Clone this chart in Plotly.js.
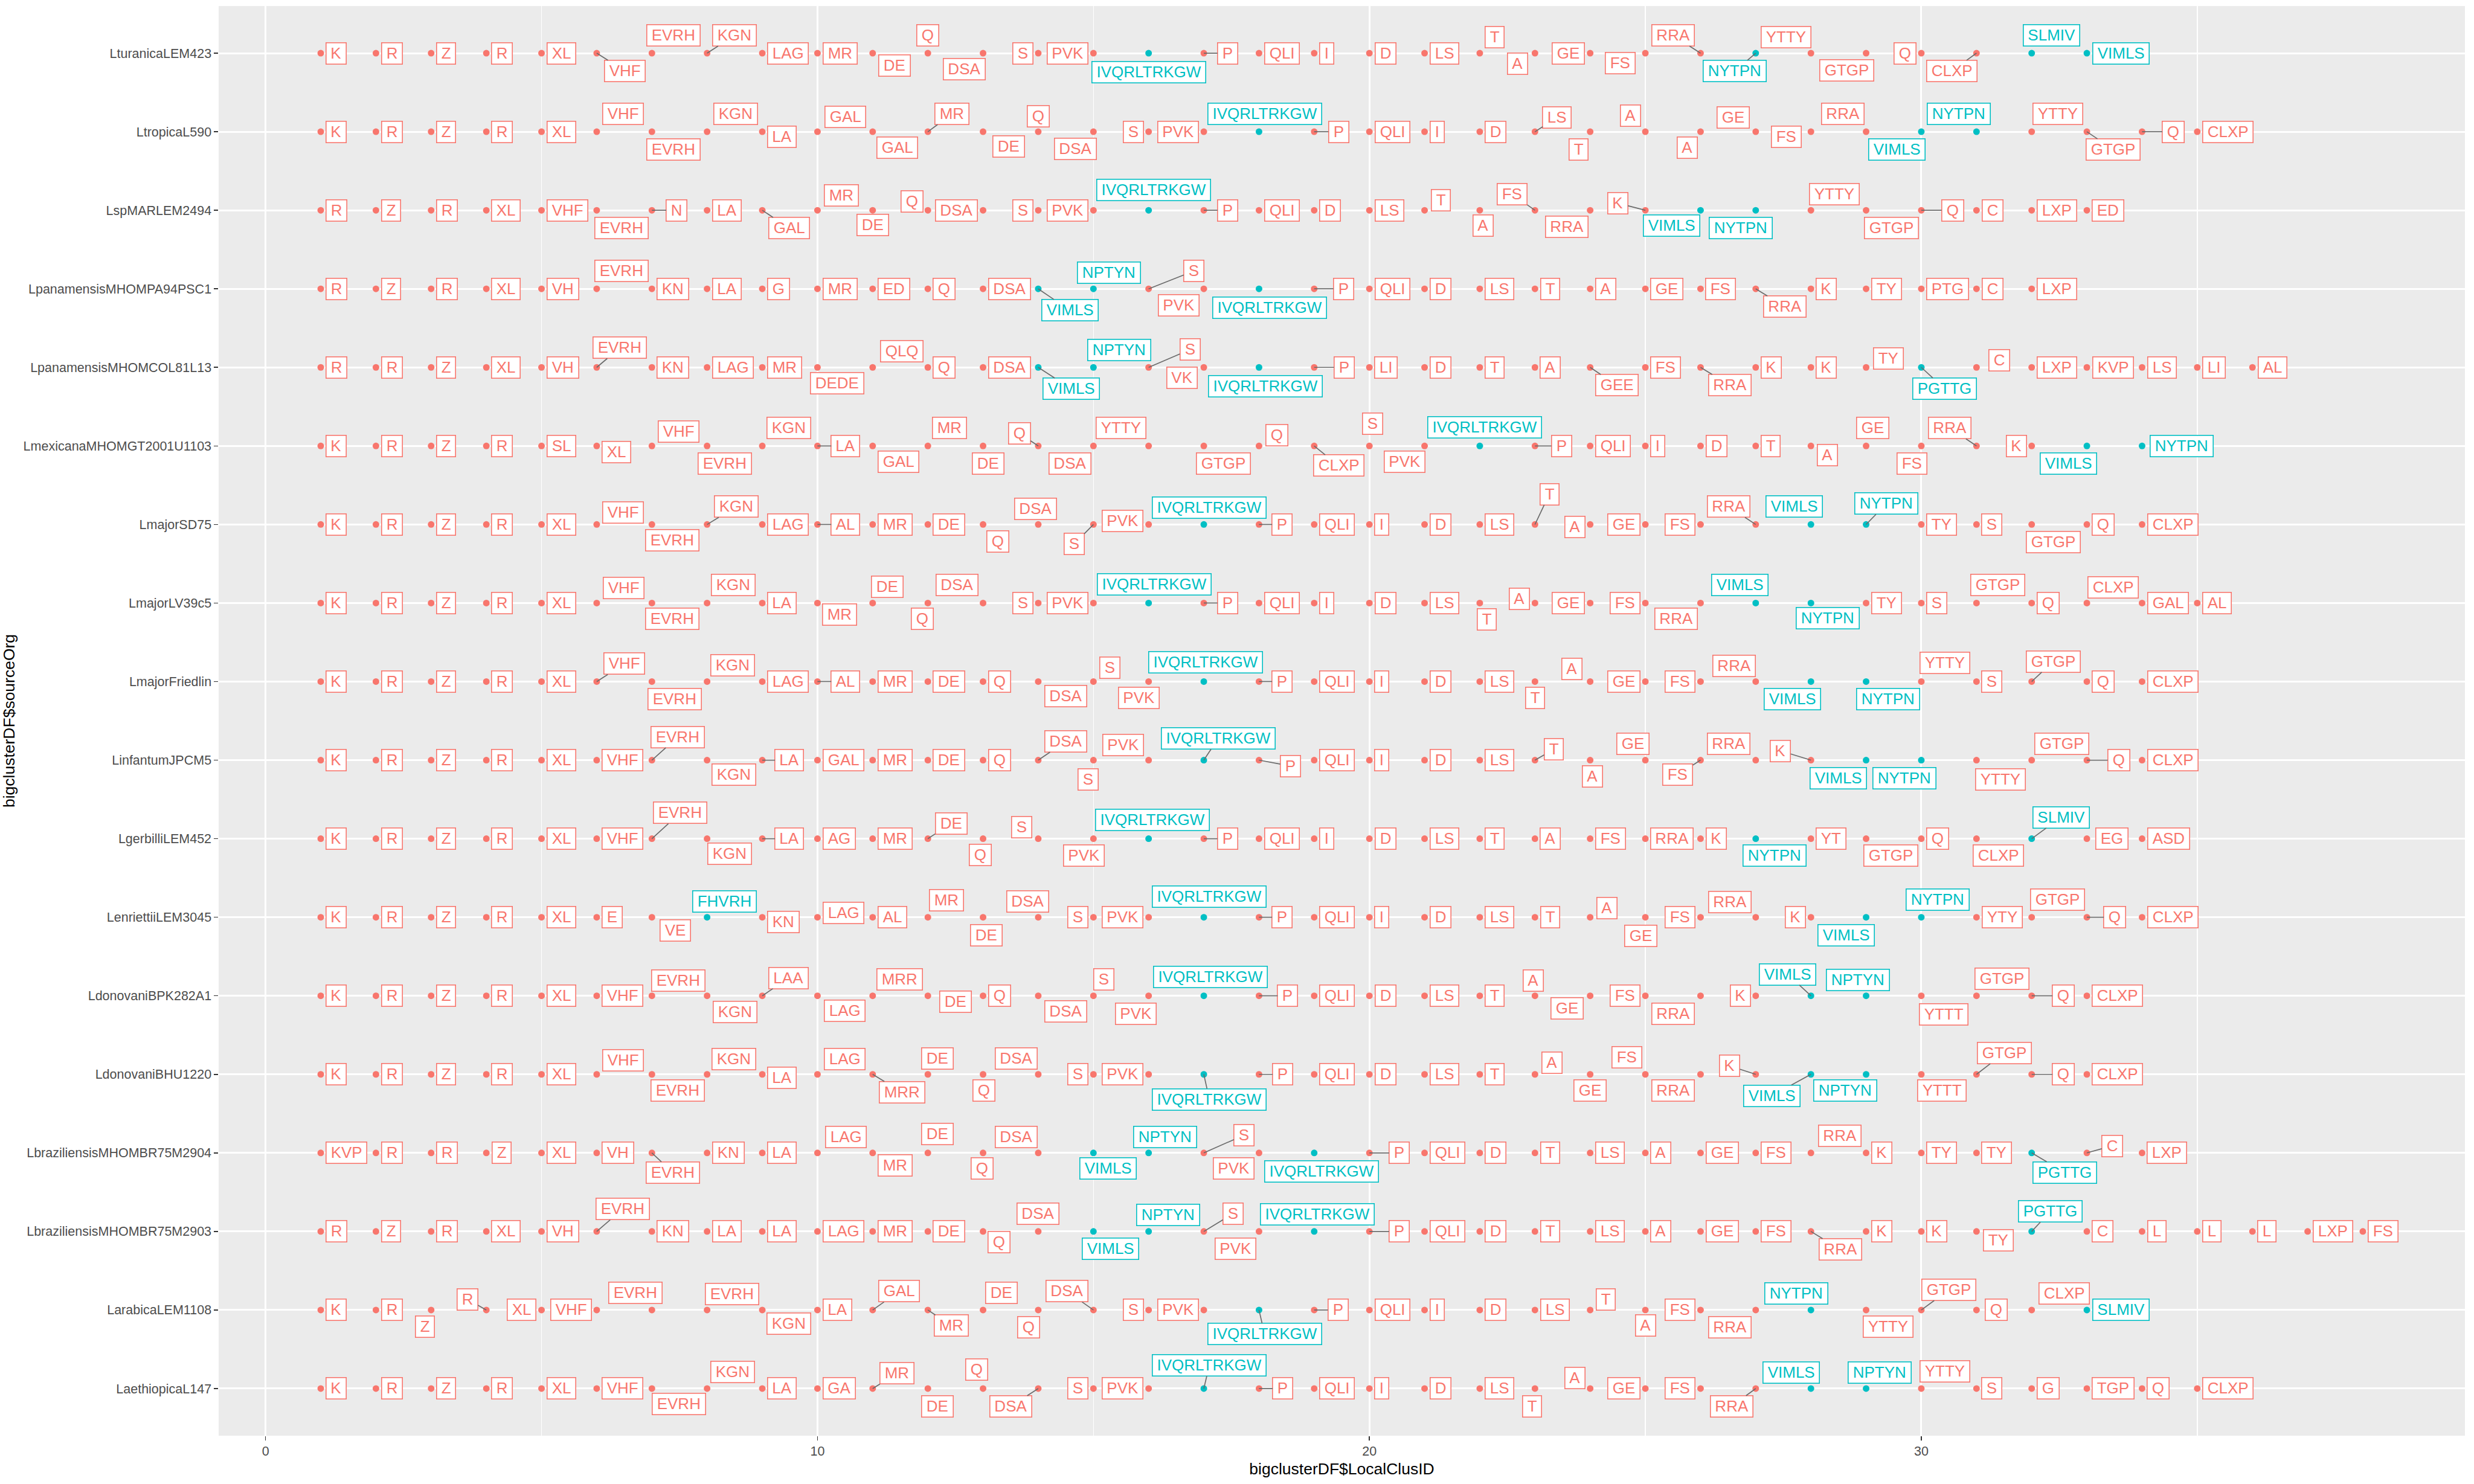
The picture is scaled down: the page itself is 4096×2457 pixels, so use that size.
<!DOCTYPE html>
<html><head><meta charset="utf-8">
<script src="https://cdn.plot.ly/plotly-3.0.1.min.js"></script>
<style>html,body{margin:0;padding:0;background:#fff;}#chart{width:4096px;height:2457px;}</style>
</head><body><div id="chart"></div>
<script>
// ---------- DATA ----------
// organisms, listed from top of the chart to the bottom
const orgs = [
  "LturanicaLEM423","LtropicaL590","LspMARLEM2494","LpanamensisMHOMPA94PSC1",
  "LpanamensisMHOMCOL81L13","LmexicanaMHOMGT2001U1103","LmajorSD75","LmajorLV39c5",
  "LmajorFriedlin","LinfantumJPCM5","LgerbilliLEM452","LenriettiiLEM3045",
  "LdonovaniBPK282A1","LdonovaniBHU1220","LbraziliensisMHOMBR75M2904",
  "LbraziliensisMHOMBR75M2903","LarabicaLEM1108","LaethiopicaL147"
];
// motif label at LocalClusID = 1, 2, 3, ... for each organism (same order as orgs)
const motifs = [
  "K R Z R XL VHF EVRH KGN LAG MR DE Q DSA S PVK IVQRLTRKGW P QLI I D LS T A GE FS RRA NYTPN YTTY GTGP Q CLXP SLMIV VIMLS",
  "K R Z R XL VHF EVRH KGN LA GAL GAL MR DE Q DSA S PVK IVQRLTRKGW P QLI I D LS T A A GE FS RRA VIMLS NYTPN YTTY GTGP Q CLXP",
  "R Z R XL VHF EVRH N LA GAL MR DE Q DSA S PVK IVQRLTRKGW P QLI D LS T A FS RRA K VIMLS NYTPN YTTY GTGP Q C LXP ED",
  "R Z R XL VH EVRH KN LA G MR ED Q DSA VIMLS NPTYN S PVK IVQRLTRKGW P QLI D LS T A GE FS RRA K TY PTG C LXP",
  "R R Z XL VH EVRH KN LAG MR DEDE QLQ Q DSA VIMLS NPTYN S VK IVQRLTRKGW P LI D T A GEE FS RRA K K TY PGTTG C LXP KVP LS LI AL",
  "K R Z R SL XL VHF EVRH KGN LA GAL MR DE Q DSA YTTY GTGP Q CLXP S PVK IVQRLTRKGW P QLI I D T A GE FS RRA K VIMLS NYTPN",
  "K R Z R XL VHF EVRH KGN LAG AL MR DE Q DSA S PVK IVQRLTRKGW P QLI I D LS T A GE FS RRA VIMLS NYTPN TY S GTGP Q CLXP",
  "K R Z R XL VHF EVRH KGN LA MR DE Q DSA S PVK IVQRLTRKGW P QLI I D LS T A GE FS RRA VIMLS NYTPN TY S GTGP Q CLXP GAL AL",
  "K R Z R XL VHF EVRH KGN LAG AL MR DE Q DSA S PVK IVQRLTRKGW P QLI I D LS T A GE FS RRA VIMLS NYTPN YTTY S GTGP Q CLXP",
  "K R Z R XL VHF EVRH KGN LA GAL MR DE Q DSA S PVK IVQRLTRKGW P QLI I D LS T A GE FS RRA K VIMLS NYTPN YTTY GTGP Q CLXP",
  "K R Z R XL VHF EVRH KGN LA AG MR DE Q S PVK IVQRLTRKGW P QLI I D LS T A FS RRA K NYTPN YT GTGP Q CLXP SLMIV EG ASD",
  "K R Z R XL E VE FHVRH KN LAG AL MR DE DSA S PVK IVQRLTRKGW P QLI I D LS T A GE FS RRA K VIMLS NYTPN YTY GTGP Q CLXP",
  "K R Z R XL VHF EVRH KGN LAA LAG MRR DE Q DSA S PVK IVQRLTRKGW P QLI D LS T A GE FS RRA K VIMLS NPTYN YTTT GTGP Q CLXP",
  "K R Z R XL VHF EVRH KGN LA LAG MRR DE Q DSA S PVK IVQRLTRKGW P QLI D LS T A GE FS RRA K VIMLS NPTYN YTTT GTGP Q CLXP",
  "KVP R R Z XL VH EVRH KN LA LAG MR DE Q DSA VIMLS NPTYN S PVK IVQRLTRKGW P QLI D T LS A GE FS RRA K TY TY PGTTG C LXP",
  "R Z R XL VH EVRH KN LA LA LAG MR DE Q DSA VIMLS NPTYN S PVK IVQRLTRKGW P QLI D T LS A GE FS RRA K K TY PGTTG C L L L LXP FS",
  "K R Z R XL VHF EVRH EVRH KGN LA GAL MR DE Q DSA S PVK IVQRLTRKGW P QLI I D LS T A FS RRA NYTPN YTTY GTGP Q CLXP SLMIV",
  "K R Z R XL VHF EVRH KGN LA GA MR DE Q DSA S PVK IVQRLTRKGW P QLI I D LS T A GE FS RRA VIMLS NPTYN YTTY S G TGP Q CLXP"
];
// motifs drawn in the second colour
const tealMotifs = ["IVQRLTRKGW","NYTPN","NPTYN","VIMLS","SLMIV","FHVRH","PGTTG"];

// ---------- LABEL PLACEMENT (repel layout, not data) ----------
// r/l = beside the point (number = gap), u/d = above/below (number = centre shift),
// @ = vertical factor, * = draw connector
const placement = [
  "r r r r r d0.51* u0.39 u0.5* r r d0.4@0.7 u0 d-0.34@0.9 l l d0@1.05 r0.24 r r r r u0.27@0.9 d-0.31@0.6 l d-0.45@0.56 u-0.5* d-0.38* u-0.45@0.9 d-0.35@0.95 l d-0.45* u0.36 r",
  "r r r r r u0.48 d0.39 u0.52 r@0.3 u0.5@0.82 d0.44@0.9 u0.44* d0.46@0.84 u0@0.88 d-0.33@0.95 l l u0.1 r0.25 r r r u0.4@0.8* d-0.21 u-0.27@0.9 d-0.24@0.9 u-0.41@0.8 d-0.45@0.3 u-0.42 d-0.44 u-0.32 u0.47 d0.48* r0.36 r",
  "r r r r r d0.45 r0.25 r d0.49* u0.43@0.82 d0@0.84 u-0.29@0.5 l l l u0.09@1.15 r0.24 r r r u0.29@0.55 d0.06@0.85 u-0.41@0.9* d-0.42@0.92 u-0.5@0.4* d-0.53@0.86 d-0.27 u0.42@0.9 d0.46 r0.36 r r r",
  "r r r r r u0.45 r r r r r r r d0.57@1.2* u0.28@0.9 u0.82* d-0.45@0.92 d0.19@1.05 r0.34 r r r r r r r d0.53* r r r r r",
  "r r r r r u0.42@1.1* r r r d0.36@0.9 u0.53@0.92 r r d0.6@1.2* u0.47@0.96 u0.75* d-0.4@0.6 d0.12@1.05 r0.35 r r r r d0.48* r d0.53* r r u0.4@0.5 d0.42@1.2* u0.41@0.4 r r r r r",
  "r r r r r r@0.35 u0.48@0.82 d0.32 u0.48 r0.24 d0.47@0.9 u0.39 d0.09 u-0.34@0.7* d-0.43 u-0.5 d0.36 u0.32@0.6 d0.44@1.1* u0.06@1.25 d-0.36@0.9 u0.09@1.05 r0.29 r r r r d0.3@0.5 u0.12 d-0.17 u-0.48* l d-0.33 r0.14",
  "r r r r r u0.48@0.67 d0.37@0.9 u0.53* r r0.24 r r d0.27@0.95 u-0.05@0.86 d-0.35@1.1* l@-0.2 u0.1@0.95 r0.23 r r r r u0.26@1.7* l@0.15 l l u-0.49* u-0.3 u0.37@1.18* r r d0.39 r r",
  "r r r r r u0.49@0.84 d0.37@0.9 u0.47 r d0.4@0.65 u0.27@0.9 d-0.1@0.9 u-0.47 l l u0.1@1.05 r0.24 r r r r d0.13@0.92 l@-0.25 l l d-0.44@0.9 u-0.29 d0.3@0.86 r r u0.38 r u0.47@0.87 r r",
  "r r r r r u0.5* d0.41 u0.46@0.9 r r0.24 r r r d0.5@0.8 u0.3@0.78 d-0.18@0.92 u0.03@1.1 r0.23 r r r r d0@0.9 u-0.33@0.7 l l u-0.39@0.87 d-0.34@0.98 d0.4@0.98 u0.43@1.05 r u0.39@1.13* r r",
  "r r r r r r u0.47@1.3* d0.48@0.8 r0.22 r r r r u0.5@1.05* d-0.1@1.1 u-0.46@0.85 u0.26@1.22* r0.38@0.33 r r r r u0.34@0.6* d0.04@0.92 u-0.22@0.9 d-0.41@0.82* u-0.49@0.9 u-0.55@0.52* d-0.5 d-0.31 d0.43@1.08 u0.54@0.9 r0.37 r",
  "r r r r r r u0.51@1.45* d0.41@0.85 r0.22 r r u0.42@0.85* d-0.05@0.9 u-0.3@0.65 d-0.17@0.95 u0.07@1.05 r0.24 r r r r r r r r r d0.34@0.95 r d0.45@0.95 r d0.4@0.95 u0.53@1.2* r0.15 r",
  "r r r r r r d0.42@0.73 u0.31@0.9 r@0.25 r@-0.25 r u0.34@0.95 d0.06 u-0.19@0.87 l l u0.1@1.15 r0.23 r r r r r u0.3@0.5 d-0.08@1.05 l u-0.47@0.85 l d-0.36 u0.3 r u0.47 r0.3 r",
  "r r r r r r u0.48@0.86 d0.51@0.92 u0.48* d0.49@0.85 u0.49@0.92 d0.5@0.33 r d0.5@0.88 u0.19@0.92 d-0.23 u0.12@1.05 r0.33 r r r r u-0.03@0.85 d-0.42@0.7 l d-0.5 l u-0.42@1.2* u-0.15@0.9 d0.4@1.05 u0.46@0.95 r0.37 r",
  "r r r r r u0.48@0.8 d0.47@0.92 u0.48@0.85 r@0.2 u0.49@0.85 d0.53* u0.17@0.88 d0.02@0.92 u-0.4@0.9 l l d0.1@1.4* r0.24 r r r r u0.31@0.64 d0@0.92 u-0.33@0.95 d-0.5@0.92 u-0.47@0.47* d-0.71@1.2* d-0.38@0.92 d0.37@0.92 u0.5@1.2* r0.37 r",
  "r r r r r r d0.38@1.1* r r u0.51@0.9 d0.41@0.7 u0.17@1.05 d-0.02@0.88 u-0.4@0.9 d0.26@0.88 u0.3@0.9 u0.73* d-0.46@0.88 d0.13@1.05 r0.35 r r r r r r r u0.52@0.95 r r r d0.6@1.1* u0.46@0.4* r",
  "r r r r r u0.47@1.25* r r r r r r d0.29@0.6 u0@0.98 d0.31@0.96 u0.35@0.92 u0.53* d-0.43@0.96 u0.06@0.96 r0.35 r r r r r r r d0.53* r r d0.4@0.5 u0.34@1.13* r r r r r r",
  "r r d-0.11@0.94 u-0.34@0.6* l l u-0.3@0.96 u0.45@0.88 d0.48@0.75 r u0.48@1.05* d0.43@0.88* u0.33@0.96 d-0.17@0.98 u-0.48@1.05* l l d0.1@1.35* r0.24 r r r r u0.28@0.6 d0@0.88 l d-0.47@0.96 u-0.27@0.94 d0.4@0.94 u0.5@1.13* r0.15 u0.59@0.92 r",
  "r r r r r r d0.49@0.88 u0.46@0.93 r r u0.44@0.85* d0.17 u-0.12@1.05 d-0.5* l l u0.1@1.3* r0.24 r r r r d-0.05 u-0.28@0.6 l l d-0.44* u-0.36@0.9 u0.24@0.9 u0.43@0.95 r r r r r"
];

// ---------- STYLE / GEOMETRY ----------
const W = 4096, H = 2457;
const M = {l: 362, r: 15, t: 10, b: 80};
const xRange = [-0.85, 39.85], yRange = [-0.6, 17.6];
const pxX = (W - M.l - M.r) / (xRange[1] - xRange[0]);
const LEVEL = 29.5;        // px lift of a label above/below its row
const GAP = 0.09;          // default gap (x units) between point and side label
const FS = 26, PADX = 8.7, BOXH = 36.6, BW = 1.6;
const FAM = '"Liberation Sans", Arial, Helvetica, sans-serif';
const RED = '#F8766D', TEAL = '#00BFC4';

const ctx = document.createElement('canvas').getContext('2d');
ctx.font = FS + 'px "Liberation Sans"';

function parseCode(c) {
  const m = (c || 'r').match(/^([rlud])(-?[\d.]+)?(?:@(-?[\d.]+))?(\*)?$/) || [null, 'r'];
  return {mode: m[1], num: m[2] !== undefined ? parseFloat(m[2]) : null,
          f: m[3] !== undefined ? parseFloat(m[3]) : null, star: !!m[4]};
}

const pts = {red: {x: [], y: []}, teal: {x: [], y: []}};
const annotations = [];
orgs.forEach((org, i) => {
  const yi = orgs.length - 1 - i;
  const labs = motifs[i].split(' ');
  const codes = placement[i].split(' ');
  labs.forEach((lab, j) => {
    const xi = j + 1;
    const teal = tealMotifs.includes(lab);
    const col = teal ? TEAL : RED;
    (teal ? pts.teal : pts.red).x.push(xi);
    (teal ? pts.teal : pts.red).y.push(yi);
    const p = parseCode(codes[j]);
    const ow = ctx.measureText(lab).width + 2 * PADX;
    const oh = BOXH;
    let cx = 0, cy = 0, seg = p.star;
    if (p.mode === 'r' || p.mode === 'l') {
      const g = p.num === null ? GAP : p.num;
      cx = (g * pxX + ow / 2) * (p.mode === 'r' ? 1 : -1);
      cy = (p.f || 0) * LEVEL;
      if (g >= 0.18) seg = true;
    } else {
      cx = (p.num || 0) * pxX;
      cy = (p.f === null ? 1 : p.f) * LEVEL * (p.mode === 'u' ? -1 : 1);
    }
    const a = {
      x: xi, y: yi, xref: 'x', yref: 'y', text: lab,
      font: {family: FAM, size: FS, color: col},
      bgcolor: '#ffffff', bordercolor: col, borderwidth: BW, borderpad: 0,
      width: ow - 2 * BW, height: oh - 2 * BW, align: 'center', valign: 'middle'
    };
    if (seg) {
      Object.assign(a, {showarrow: true, ax: cx, ay: cy, axref: 'pixel', ayref: 'pixel',
        arrowhead: 0, arrowwidth: 1.7, arrowcolor: '#6b6b6b', standoff: 0, startstandoff: 0});
    } else {
      Object.assign(a, {showarrow: false, xanchor: 'center', yanchor: 'middle', xshift: cx, yshift: -cy});
    }
    annotations.push(a);
  });
});

const traces = [
  {type: 'scatter', mode: 'markers', x: pts.red.x, y: pts.red.y, hoverinfo: 'skip',
   marker: {color: RED, size: 11, line: {width: 0}}, showlegend: false},
  {type: 'scatter', mode: 'markers', x: pts.teal.x, y: pts.teal.y, hoverinfo: 'skip',
   marker: {color: TEAL, size: 11, line: {width: 0}}, showlegend: false}
];

const tickIdx = orgs.map((_, i) => orgs.length - 1 - i);
const layout = {
  width: W, height: H, margin: M,
  paper_bgcolor: '#ffffff', plot_bgcolor: '#EBEBEB',
  font: {family: FAM, color: '#000000'},
  showlegend: false,
  xaxis: {
    range: xRange, tickmode: 'linear', tick0: 0, dtick: 10,
    showgrid: true, gridcolor: '#ffffff', gridwidth: 3,
    minor: {tick0: 0, dtick: 5, showgrid: true, gridcolor: '#ffffff', gridwidth: 1.5, ticks: ''},
    zeroline: false, showline: false,
    ticks: 'outside', ticklen: 6.6, tickwidth: 1.6, tickcolor: '#333333',
    tickfont: {family: FAM, size: 21.5, color: '#4D4D4D'},
    title: {text: 'bigclusterDF$LocalClusID', font: {family: FAM, size: 26.5, color: '#000'}, standoff: 8}
  },
  yaxis: {
    range: yRange, tickmode: 'array', tickvals: tickIdx, ticktext: orgs,
    showgrid: true, gridcolor: '#ffffff', gridwidth: 3,
    zeroline: false, showline: false,
    ticks: 'outside', ticklen: 6.6, tickwidth: 1.6, tickcolor: '#333333',
    tickfont: {family: FAM, size: 21.5, color: '#4D4D4D'},
    title: {text: 'bigclusterDF$sourceOrg', font: {family: FAM, size: 26.5, color: '#000'}, standoff: 12}
  },
  annotations: annotations
};

Plotly.newPlot('chart', traces, layout, {displayModeBar: false, staticPlot: true});
</script>
</body></html>
